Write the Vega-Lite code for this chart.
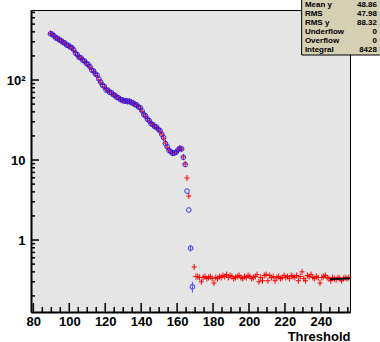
{
  "$schema": "https://vega.github.io/schema/vega-lite/v6.json",
  "width": 319,
  "height": 302,
  "autosize": {"type": "none"},
  "padding": {"left": 31, "top": 10, "right": 30, "bottom": 30},
  "background": "white",
  "config": {
    "view": {"fill": "#e5e5e5", "stroke": "black", "strokeWidth": 1},
    "font": "Liberation Sans",
    "axis": {"grid": false, "tickColor": "black", "domainColor": "black", "domainWidth": 1.5, "tickWidth": 1, "labelOverlap": false, "labelFlush": false}
  },
  "datasets": {
    "hist": [
      {"x": 89.5, "red": 384, "blue": 378}, {"x": 90.5, "red": 371, "blue": 374}, {"x": 91.5, "red": 353, "blue": 356},
      {"x": 92.5, "red": 340, "blue": 336}, {"x": 93.5, "red": 329, "blue": 332}, {"x": 94.5, "red": 320, "blue": 316},
      {"x": 95.5, "red": 308, "blue": 311}, {"x": 96.5, "red": 298, "blue": 295}, {"x": 97.5, "red": 287, "blue": 290},
      {"x": 98.5, "red": 276, "blue": 273}, {"x": 99.5, "red": 268, "blue": 271}, {"x": 100.5, "red": 262, "blue": 258},
      {"x": 101.5, "red": 251, "blue": 254}, {"x": 102.5, "red": 234, "blue": 238}, {"x": 103.5, "red": 219, "blue": 216},
      {"x": 104.5, "red": 204, "blue": 207}, {"x": 105.5, "red": 194, "blue": 192}, {"x": 106.5, "red": 187, "blue": 189},
      {"x": 107.5, "red": 179, "blue": 176}, {"x": 108.5, "red": 171, "blue": 173}, {"x": 109.5, "red": 164, "blue": 161},
      {"x": 110.5, "red": 155, "blue": 157}, {"x": 111.5, "red": 145, "blue": 147}, {"x": 112.5, "red": 136, "blue": 133},
      {"x": 113.5, "red": 128, "blue": 130}, {"x": 114.5, "red": 121, "blue": 119}, {"x": 115.5, "red": 113, "blue": 115},
      {"x": 116.5, "red": 100, "blue": 103}, {"x": 117.5, "red": 92, "blue": 94}, {"x": 118.5, "red": 88, "blue": 86},
      {"x": 119.5, "red": 82, "blue": 83}, {"x": 120.5, "red": 77, "blue": 75}, {"x": 121.5, "red": 73.5, "blue": 74.5},
      {"x": 122.5, "red": 71, "blue": 70}, {"x": 123.5, "red": 68.6, "blue": 69.5}, {"x": 124.5, "red": 66.3, "blue": 65.5},
      {"x": 125.5, "red": 63.6, "blue": 64.2}, {"x": 126.5, "red": 61.3, "blue": 60.5}, {"x": 127.5, "red": 59.2, "blue": 59.8},
      {"x": 128.5, "red": 57.4, "blue": 56.8}, {"x": 129.5, "red": 55.9, "blue": 56.4}, {"x": 130.5, "red": 55.0, "blue": 54.5},
      {"x": 131.5, "red": 54.6, "blue": 55.2}, {"x": 132.5, "red": 54.3, "blue": 53.7}, {"x": 133.5, "red": 54.0, "blue": 54.4},
      {"x": 134.5, "red": 52.6, "blue": 52.1}, {"x": 135.5, "red": 51.4, "blue": 51.9}, {"x": 136.5, "red": 49.8, "blue": 49.3},
      {"x": 137.5, "red": 48.4, "blue": 48.9}, {"x": 138.5, "red": 46.5, "blue": 46.0}, {"x": 139.5, "red": 44.4, "blue": 44.9},
      {"x": 140.5, "red": 40.6, "blue": 41.2}, {"x": 141.5, "red": 37.4, "blue": 37.0}, {"x": 142.5, "red": 35.1, "blue": 35.5},
      {"x": 143.5, "red": 32.8, "blue": 32.4}, {"x": 144.5, "red": 30.7, "blue": 31.0}, {"x": 145.5, "red": 28.8, "blue": 28.5},
      {"x": 146.5, "red": 27.4, "blue": 27.7}, {"x": 147.5, "red": 26.5, "blue": 26.2}, {"x": 148.5, "red": 25.5, "blue": 25.8},
      {"x": 149.5, "red": 24.5, "blue": 24.3}, {"x": 150.5, "red": 23.0, "blue": 23.3}, {"x": 151.5, "red": 21.1, "blue": 20.9},
      {"x": 152.5, "red": 18.8, "blue": 19.0}, {"x": 153.5, "red": 16.3, "blue": 16.1}, {"x": 154.5, "red": 14.5, "blue": 14.7},
      {"x": 155.5, "red": 13.3, "blue": 13.2}, {"x": 156.5, "red": 12.6, "blue": 12.7}, {"x": 157.5, "red": 12.2, "blue": 12.1},
      {"x": 158.5, "red": 12.2, "blue": 12.3}, {"x": 159.5, "red": 12.6, "blue": 12.5}, {"x": 160.5, "red": 13.3, "blue": 13.4},
      {"x": 161.5, "red": 14.1, "blue": 14.0}, {"x": 162.5, "red": 13.7, "blue": 13.8}, {"x": 163.5, "red": 10.9, "blue": 10.8},
      {"x": 164.5, "red": 8.9, "blue": 8.8}, {"x": 165.5, "red": 5.96, "blue": 4.09}, {"x": 166.5, "red": 3.55, "blue": 2.37},
      {"x": 167.5, "red": null, "blue": 0.79}, {"x": 168.5, "red": null, "blue": 0.26}, {"x": 169.5, "red": 0.46, "blue": null},
      {"x": 170.5, "red": 0.35}, {"x": 171.5, "red": 0.35}, {"x": 172.5, "red": 0.34}, {"x": 173.5, "red": 0.30},
      {"x": 174.5, "red": 0.34}, {"x": 175.5, "red": 0.35}, {"x": 176.5, "red": 0.33}, {"x": 177.5, "red": 0.34},
      {"x": 178.5, "red": 0.35}, {"x": 179.5, "red": 0.33}, {"x": 180.5, "red": 0.29}, {"x": 181.5, "red": 0.34},
      {"x": 182.5, "red": 0.33}, {"x": 183.5, "red": 0.35}, {"x": 184.5, "red": 0.34}, {"x": 185.5, "red": 0.36},
      {"x": 186.5, "red": 0.35}, {"x": 187.5, "red": 0.37}, {"x": 188.5, "red": 0.34}, {"x": 189.5, "red": 0.36},
      {"x": 190.5, "red": 0.35}, {"x": 191.5, "red": 0.33}, {"x": 192.5, "red": 0.34}, {"x": 193.5, "red": 0.35},
      {"x": 194.5, "red": 0.36}, {"x": 195.5, "red": 0.34}, {"x": 196.5, "red": 0.33}, {"x": 197.5, "red": 0.35},
      {"x": 198.5, "red": 0.34}, {"x": 199.5, "red": 0.36}, {"x": 200.5, "red": 0.35}, {"x": 201.5, "red": 0.33},
      {"x": 202.5, "red": 0.34}, {"x": 203.5, "red": 0.35}, {"x": 204.5, "red": 0.37}, {"x": 205.5, "red": 0.30},
      {"x": 206.5, "red": 0.34}, {"x": 207.5, "red": 0.31}, {"x": 208.5, "red": 0.36}, {"x": 209.5, "red": 0.37},
      {"x": 210.5, "red": 0.31}, {"x": 211.5, "red": 0.36}, {"x": 212.5, "red": 0.34}, {"x": 213.5, "red": 0.35},
      {"x": 214.5, "red": 0.31}, {"x": 215.5, "red": 0.34}, {"x": 216.5, "red": 0.35}, {"x": 217.5, "red": 0.33},
      {"x": 218.5, "red": 0.34}, {"x": 219.5, "red": 0.36}, {"x": 220.5, "red": 0.34}, {"x": 221.5, "red": 0.35},
      {"x": 222.5, "red": 0.33}, {"x": 223.5, "red": 0.36}, {"x": 224.5, "red": 0.35}, {"x": 225.5, "red": 0.34},
      {"x": 226.5, "red": 0.36}, {"x": 227.5, "red": 0.31}, {"x": 228.5, "red": 0.35}, {"x": 229.5, "red": 0.40},
      {"x": 230.5, "red": 0.33}, {"x": 231.5, "red": 0.31}, {"x": 232.5, "red": 0.36}, {"x": 233.5, "red": 0.35},
      {"x": 234.5, "red": 0.37}, {"x": 235.5, "red": 0.34}, {"x": 236.5, "red": 0.33}, {"x": 237.5, "red": 0.35},
      {"x": 238.5, "red": 0.34}, {"x": 239.5, "red": 0.29}, {"x": 240.5, "red": 0.34}, {"x": 241.5, "red": 0.35},
      {"x": 242.5, "red": 0.36}, {"x": 243.5, "red": 0.34}, {"x": 244.5, "red": 0.33}, {"x": 245.5, "red": 0.31},
      {"x": 246.5, "red": 0.34}, {"x": 247.5, "red": 0.33}, {"x": 248.5, "red": 0.32}, {"x": 249.5, "red": 0.34},
      {"x": 250.5, "red": 0.33}, {"x": 251.5, "red": 0.31}, {"x": 252.5, "red": 0.33}, {"x": 253.5, "red": 0.34},
      {"x": 254.5, "red": 0.33}, {"x": 255.5, "red": 0.34}
    ],
    "blueErr": [
      {"x": 168.5, "lo": 0.22, "hi": 0.30},
      {"x": 167.5, "lo": 0.72, "hi": 0.87}
    ],
    "fit": [
      {"x": 245.0, "y": 0.324},
      {"x": 256.2, "y": 0.334}
    ],
    "xMajor": [{"v": 80}, {"v": 100}, {"v": 120}, {"v": 140}, {"v": 160}, {"v": 180}, {"v": 200}, {"v": 220}, {"v": 240}],
    "xMinor": [{"v": 85}, {"v": 90}, {"v": 95}, {"v": 105}, {"v": 110}, {"v": 115}, {"v": 125}, {"v": 130}, {"v": 135},
      {"v": 145}, {"v": 150}, {"v": 155}, {"v": 165}, {"v": 170}, {"v": 175}, {"v": 185}, {"v": 190}, {"v": 195},
      {"v": 205}, {"v": 210}, {"v": 215}, {"v": 225}, {"v": 230}, {"v": 235}, {"v": 245}, {"v": 250}, {"v": 255}],
    "yMajor": [{"v": 1}, {"v": 10}, {"v": 100}],
    "yMinor": [{"v": 0.2}, {"v": 0.3}, {"v": 0.4}, {"v": 0.5}, {"v": 0.6}, {"v": 0.7}, {"v": 0.8}, {"v": 0.9},
      {"v": 2}, {"v": 3}, {"v": 4}, {"v": 5}, {"v": 6}, {"v": 7}, {"v": 8}, {"v": 9},
      {"v": 20}, {"v": 30}, {"v": 40}, {"v": 50}, {"v": 60}, {"v": 70}, {"v": 80}, {"v": 90},
      {"v": 200}, {"v": 300}, {"v": 400}, {"v": 500}, {"v": 600}, {"v": 700}]
  },
  "resolve": {"axis": {"x": "independent", "y": "independent"}},
  "layer": [
    {
      "data": {"name": "hist"},
      "mark": {"type": "point", "shape": "M-1,0H1M0,-1.2V1.2", "filled": false, "stroke": "#ff0000", "strokeWidth": 1, "size": 25, "opacity": 1},
      "encoding": {
        "x": {
          "field": "x", "type": "quantitative",
          "scale": {"domain": [78.7, 256.2], "nice": false, "zero": false},
          "axis": null
        },
        "y": {
          "field": "red", "type": "quantitative",
          "scale": {"type": "log", "domain": [0.126, 750], "nice": false},
          "axis": null
        }
      }
    },
    {
      "data": {"name": "hist"},
      "mark": {"type": "point", "shape": "circle", "filled": false, "stroke": "#1a1aff", "strokeWidth": 1, "size": 22, "opacity": 0.85},
      "encoding": {
        "x": {
          "field": "x", "type": "quantitative",
          "axis": {
            "orient": "bottom",
            "values": [80, 100, 120, 140, 160, 180, 200, 220, 240],
            "domain": true,
            "domainWidth": 2,
            "domainColor": "#000000",
            "ticks": false,
            "labelPadding": 3,
            "labelFont": "Liberation Sans",
            "labelFontSize": 13,
            "labelFontWeight": "bold",
            "labelColor": "black",
            "title": "Threshold",
            "titleAnchor": "end",
            "titleAlign": "right",
            "titleFont": "Liberation Sans",
            "titleFontSize": 13,
            "titleFontWeight": "bold",
            "titleColor": "black",
            "titlePadding": 2
          }
        },
        "y": {
          "field": "blue", "type": "quantitative",
          "axis": {
            "orient": "left",
            "values": [1, 10, 100],
            "labelExpr": "datum.value == 100 ? '10²' : datum.value == 10 ? '10' : '1'",
            "domain": true,
            "domainWidth": 2,
            "domainColor": "#000000",
            "ticks": false,
            "labelPadding": 6,
            "labelFont": "Liberation Sans",
            "labelFontSize": 13,
            "labelFontWeight": "bold",
            "labelColor": "black",
            "title": null
          }
        }
      }
    },
    {
      "data": {"name": "blueErr"},
      "mark": {"type": "rule", "color": "#4d4dff", "strokeWidth": 1},
      "encoding": {
        "x": {"field": "x", "type": "quantitative", "axis": null},
        "y": {"field": "lo", "type": "quantitative", "axis": null},
        "y2": {"field": "hi"}
      }
    },
    {
      "data": {"name": "fit"},
      "mark": {"type": "line", "color": "black", "strokeWidth": 2},
      "encoding": {
        "x": {"field": "x", "type": "quantitative", "axis": null},
        "y": {"field": "y", "type": "quantitative", "axis": null}
      }
    },
    {
      "data": {"name": "xMajor"},
      "mark": {"type": "rule", "stroke": "#000000", "strokeWidth": 1.5, "opacity": 1},
      "encoding": {
        "x": {"field": "v", "type": "quantitative", "axis": null},
        "y": {"datum": 0.126, "type": "quantitative", "axis": null},
        "y2": {"datum": 0.1633}
      }
    },
    {
      "data": {"name": "xMinor"},
      "mark": {"type": "rule", "stroke": "#000000", "strokeWidth": 1.5, "opacity": 1},
      "encoding": {
        "x": {"field": "v", "type": "quantitative", "axis": null},
        "y": {"datum": 0.126, "type": "quantitative", "axis": null},
        "y2": {"datum": 0.1455}
      }
    },
    {
      "data": {"name": "yMajor"},
      "mark": {"type": "rule", "stroke": "#000000", "strokeWidth": 1.5, "opacity": 1},
      "encoding": {
        "y": {"field": "v", "type": "quantitative", "axis": null},
        "x": {"datum": 78.7, "type": "quantitative", "axis": null},
        "x2": {"datum": 83.15}
      }
    },
    {
      "data": {"name": "yMinor"},
      "mark": {"type": "rule", "stroke": "#000000", "strokeWidth": 1.5, "opacity": 1},
      "encoding": {
        "y": {"field": "v", "type": "quantitative", "axis": null},
        "x": {"datum": 78.7, "type": "quantitative", "axis": null},
        "x2": {"datum": 80.93}
      }
    },
    {
      "data": {"values": [{}]},
      "mark": {"type": "rect", "fill": "#d5cfb3", "stroke": "black", "strokeWidth": 1, "clip": false},
      "encoding": {
        "x": {"datum": 229.3, "type": "quantitative", "axis": null},
        "x2": {"datum": 300},
        "y": {"datum": 205.4, "type": "quantitative", "axis": null},
        "y2": {"datum": 5000}
      }
    },
    {
      "data": {"values": [{}]},
      "mark": {"type": "text", "align": "left", "baseline": "top", "font": "Liberation Sans", "fontSize": 8, "fontWeight": "bold", "lineHeight": 9, "color": "black"},
      "encoding": {
        "x": {"datum": 231.1, "type": "quantitative", "axis": null},
        "y": {"datum": 985, "type": "quantitative", "axis": null},
        "text": {"value": ["Mean y", "RMS", "RMS y", "Underflow", "Overflow", "Integral"]}
      }
    },
    {
      "data": {"values": [{}]},
      "mark": {"type": "text", "align": "right", "baseline": "top", "font": "Liberation Sans", "fontSize": 8, "fontWeight": "bold", "lineHeight": 9, "color": "black"},
      "encoding": {
        "x": {"datum": 271.2, "type": "quantitative", "axis": null},
        "y": {"datum": 985, "type": "quantitative", "axis": null},
        "text": {"value": ["48.86", "47.98", "88.32", "0", "0", "8428"]}
      }
    }
  ]
}
